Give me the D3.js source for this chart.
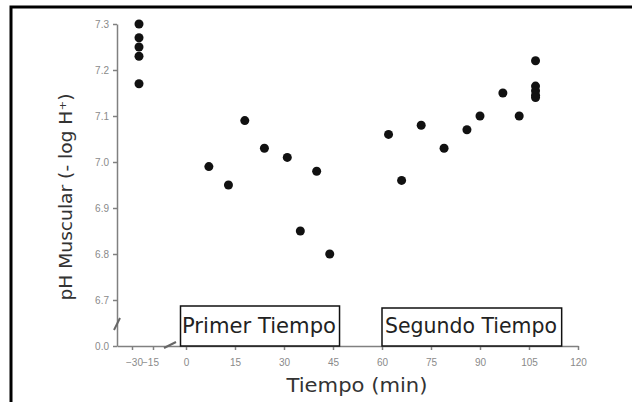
<!DOCTYPE html>
<html>
<head>
<meta charset="utf-8">
<script src="https://cdn.jsdelivr.net/npm/d3@7"></script>
<style>
  body { margin: 0; background: #fff; }
  svg { display: block; font-family: "DejaVu Sans", sans-serif; }
</style>
</head>
<body>
<div id="chart"></div>
<script>
// data
var preTime = [-25, -25, -25, -25, -25];
var prePH = [7.30, 7.27, 7.25, 7.23, 7.17];
var time1 = [7, 13, 18, 24, 31, 35, 40, 44];
var ph1 = [6.99, 6.95, 7.09, 7.03, 7.01, 6.85, 6.98, 6.80];
var time2 = [62, 66, 72, 79, 86, 90, 97, 102, 107, 107, 107, 107, 107];
var ph2 = [7.06, 6.96, 7.08, 7.03, 7.07, 7.10, 7.15, 7.10, 7.22, 7.165, 7.155, 7.145, 7.14];
var xTicks = [-30, -15, 0, 15, 30, 45, 60, 75, 90, 105, 120];
var yTicks = [6.6, 6.7, 6.8, 6.9, 7.0, 7.1, 7.2, 7.3];
var yTickLabels = ['0.0', '6.7', '6.8', '6.9', '7.0', '7.1', '7.2', '7.3'];

var width = 632, height = 402;

//broken axes -> piecewise scales
var x = d3.scaleLinear().domain([-36, -30, -15, 0, 120]).range([117, 132, 153, 186, 578]);
var y = d3.scaleLinear().domain([6.6, 7.3]).range([346, 24]);

var svg = d3.select('#chart').append('svg')
  .attr('width', width)
  .attr('height', height);

//frame
svg.append('path')
  .attr('d', 'M11,402V7H632')
  .attr('fill', 'none')
  .attr('stroke', '#000')
  .attr('stroke-width', 3);

var axisColor = '#808080';

var xAxis = d3.axisBottom(x).tickValues(xTicks).tickSize(4).tickSizeOuter(0)
  .tickFormat(function(d){ return d < 0 ? '\u2212' + Math.abs(d) : d; });
var yAxis = d3.axisLeft(y).tickValues(yTicks).tickSize(4).tickSizeOuter(0)
  .tickFormat(function(d, i){ return yTickLabels[i]; });

var gx = svg.append('g')
  .attr('transform', 'translate(0,' + y(6.6) + ')')
  .call(xAxis);
gx.select('.domain').attr('stroke', axisColor).attr('stroke-width', 1.5);
gx.selectAll('.tick line').attr('stroke', axisColor).attr('stroke-width', 1.5);
gx.selectAll('.tick text')
  .attr('fill', '#8a8a8a')
  .style('font-size', '10px')
  .attr('dy', '1.3em');
gx.selectAll('.tick').filter(function(d){ return d === -30; }).select('text').attr('dx', '2px');
gx.selectAll('.tick').filter(function(d){ return d === -15; }).select('text').attr('dx', '-3px');

var gy = svg.append('g')
  .attr('transform', 'translate(' + x(-36) + ',0)')
  .call(yAxis);
gy.select('.domain').attr('stroke', axisColor).attr('stroke-width', 1.5);
gy.selectAll('.tick line').attr('stroke', axisColor).attr('stroke-width', 1.5);
gy.selectAll('.tick text')
  .attr('fill', '#8a8a8a')
  .style('font-size', '10px')
  .attr('x', -8);

//break marks
svg.append('path')
  .attr('d', 'M114,330L120,318')
  .attr('stroke', '#666').attr('stroke-width', 2);
svg.append('path')
  .attr('d', 'M164,348L176,342')
  .attr('stroke', '#666').attr('stroke-width', 2);

//axis titles
svg.append('text')
  .attr('transform', 'translate(72,197) rotate(-90)')
  .attr('text-anchor', 'middle')
  .attr('fill', '#333')
  .style('font-size', '17px')
  .attr('textLength', 207)
  .attr('lengthAdjust', 'spacingAndGlyphs')
  .text('pH Muscular (- log H\u207A)');

svg.append('text')
  .attr('x', 357)
  .attr('y', 392)
  .attr('text-anchor', 'middle')
  .attr('fill', '#333')
  .style('font-size', '19px')
  .attr('textLength', 141)
  .attr('lengthAdjust', 'spacingAndGlyphs')
  .text('Tiempo (min)');

//period boxes
var periods = [
  {label: 'Primer Tiempo', x0: -2.5, x1: 47, top: 306, tx: 182, tw: 154},
  {label: 'Segundo Tiempo', x0: 60, x1: 115, top: 308, tx: 385, tw: 172}
];
periods.forEach(function(p){
  svg.append('rect')
    .attr('x', x(p.x0))
    .attr('y', p.top)
    .attr('width', x(p.x1) - x(p.x0))
    .attr('height', y(6.6) - p.top)
    .attr('fill', '#fff')
    .attr('stroke', '#111')
    .attr('stroke-width', 1.5);
  svg.append('text')
    .attr('x', p.tx)
    .attr('y', 333)
    .attr('fill', '#222')
    .style('font-size', '21px')
    .attr('textLength', p.tw)
    .attr('lengthAdjust', 'spacingAndGlyphs')
    .text(p.label);
});

//points
var pts = [];
preTime.forEach(function(t, i){ pts.push([t, prePH[i]]); });
time1.forEach(function(t, i){ pts.push([t, ph1[i]]); });
time2.forEach(function(t, i){ pts.push([t, ph2[i]]); });

svg.selectAll('circle.pt')
  .data(pts)
  .enter()
  .append('circle')
  .attr('class', 'pt')
  .attr('cx', function(d){ return x(d[0]); })
  .attr('cy', function(d){ return y(d[1]); })
  .attr('r', 4.5)
  .attr('fill', '#111');
</script>
</body>
</html>
